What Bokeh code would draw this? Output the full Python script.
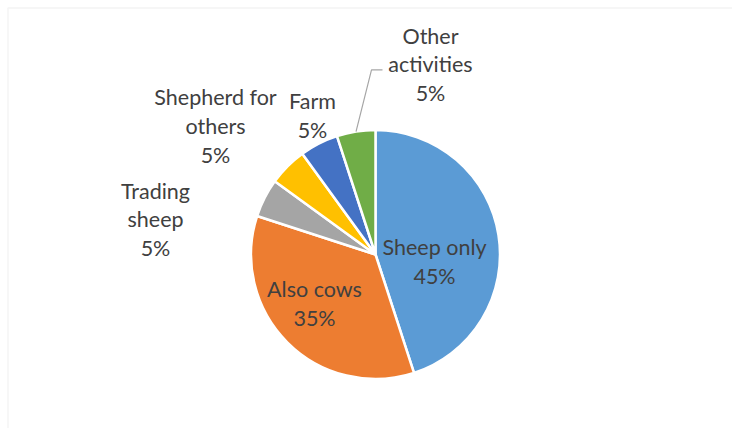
import numpy as np
from bokeh.plotting import figure
from bokeh.models import Range1d, BoxAnnotation
from bokeh.core.properties import value
from bokeh.embed import file_html
from bokeh.resources import INLINE

# ---- data ----
categories = ["Sheep only", "Also cows", "Trading sheep", "Shepherd for others", "Farm", "Other activities"]
shares = [45, 35, 5, 5, 5, 5]
label_lines = [["Sheep only"], ["Also cows"], ["Trading", "sheep"],
               ["Shepherd for", "others"], ["Farm"], ["Other", "activities"]]
colors = ["#5B9BD5", "#ED7D31", "#A5A5A5", "#FFC000", "#4472C4", "#70AD47"]

# ---- layout (pixels from top-left) ----
W, H = 732, 428
CX, CY_PX, R = 375, 254, 124.5
label_anchor_px = [(434, 246.5), (314, 288.3), (155, 190), (215, 96.7), (312, 100.7), (430, 35)]
PITCH = 28.8
FONT = "Lato"
FSIZE = "21.5px"
TXT = "#404040"

CY = H - CY_PX

p = figure(width=W, height=H, output_backend="svg", toolbar_location=None,
           x_range=Range1d(0, W), y_range=Range1d(0, H),
           x_axis_location=None, y_axis_location=None, min_border=0)
p.grid.visible = False
p.outline_line_color = None
p.background_fill_color = "white"
p.border_fill_color = "white"

# chart-area border (top + left visible)
p.add_layout(BoxAnnotation(left=7.5, right=W + 50, bottom=-50, top=H - 7.5,
                           fill_alpha=0, line_color="#D9D9D9", line_width=1.5))

total = float(sum(shares))
fr = np.array(shares) / total
cum_after = np.cumsum(fr)
cum_before = cum_after - fr
start_a = np.pi / 2 - 2 * np.pi * cum_after
end_a = np.pi / 2 - 2 * np.pi * cum_before
mid_a = np.pi / 2 - 2 * np.pi * (cum_before + fr / 2)

p.wedge(x=[CX] * len(shares), y=[CY] * len(shares), radius=R,
        start_angle=list(start_a), end_angle=list(end_a), direction="anticlock",
        fill_color=colors, line_color="white", line_width=2.5)

# leader line for "Other activities"
i = 5
ex = CX + R * np.cos(mid_a[i])
ey = CY + R * np.sin(mid_a[i])
p.line(x=[382, 371, ex], y=[H - 69.3, H - 69.3, ey], line_color="#A6A6A6", line_width=1.2)

xs, ys, texts = [], [], []
for k, lines in enumerate(label_lines):
    ax, ay = label_anchor_px[k]
    all_lines = lines + [f"{shares[k]}%"]
    for j, t in enumerate(all_lines):
        xs.append(ax)
        ys.append(H - (ay + j * PITCH))
        texts.append(t)

p.text(x=xs, y=ys, text=texts, text_align="center", text_baseline="alphabetic",
       text_font=value(FONT), text_font_size=FSIZE, text_color=TXT)

open("out.html", "w").write(file_html(p, INLINE))
